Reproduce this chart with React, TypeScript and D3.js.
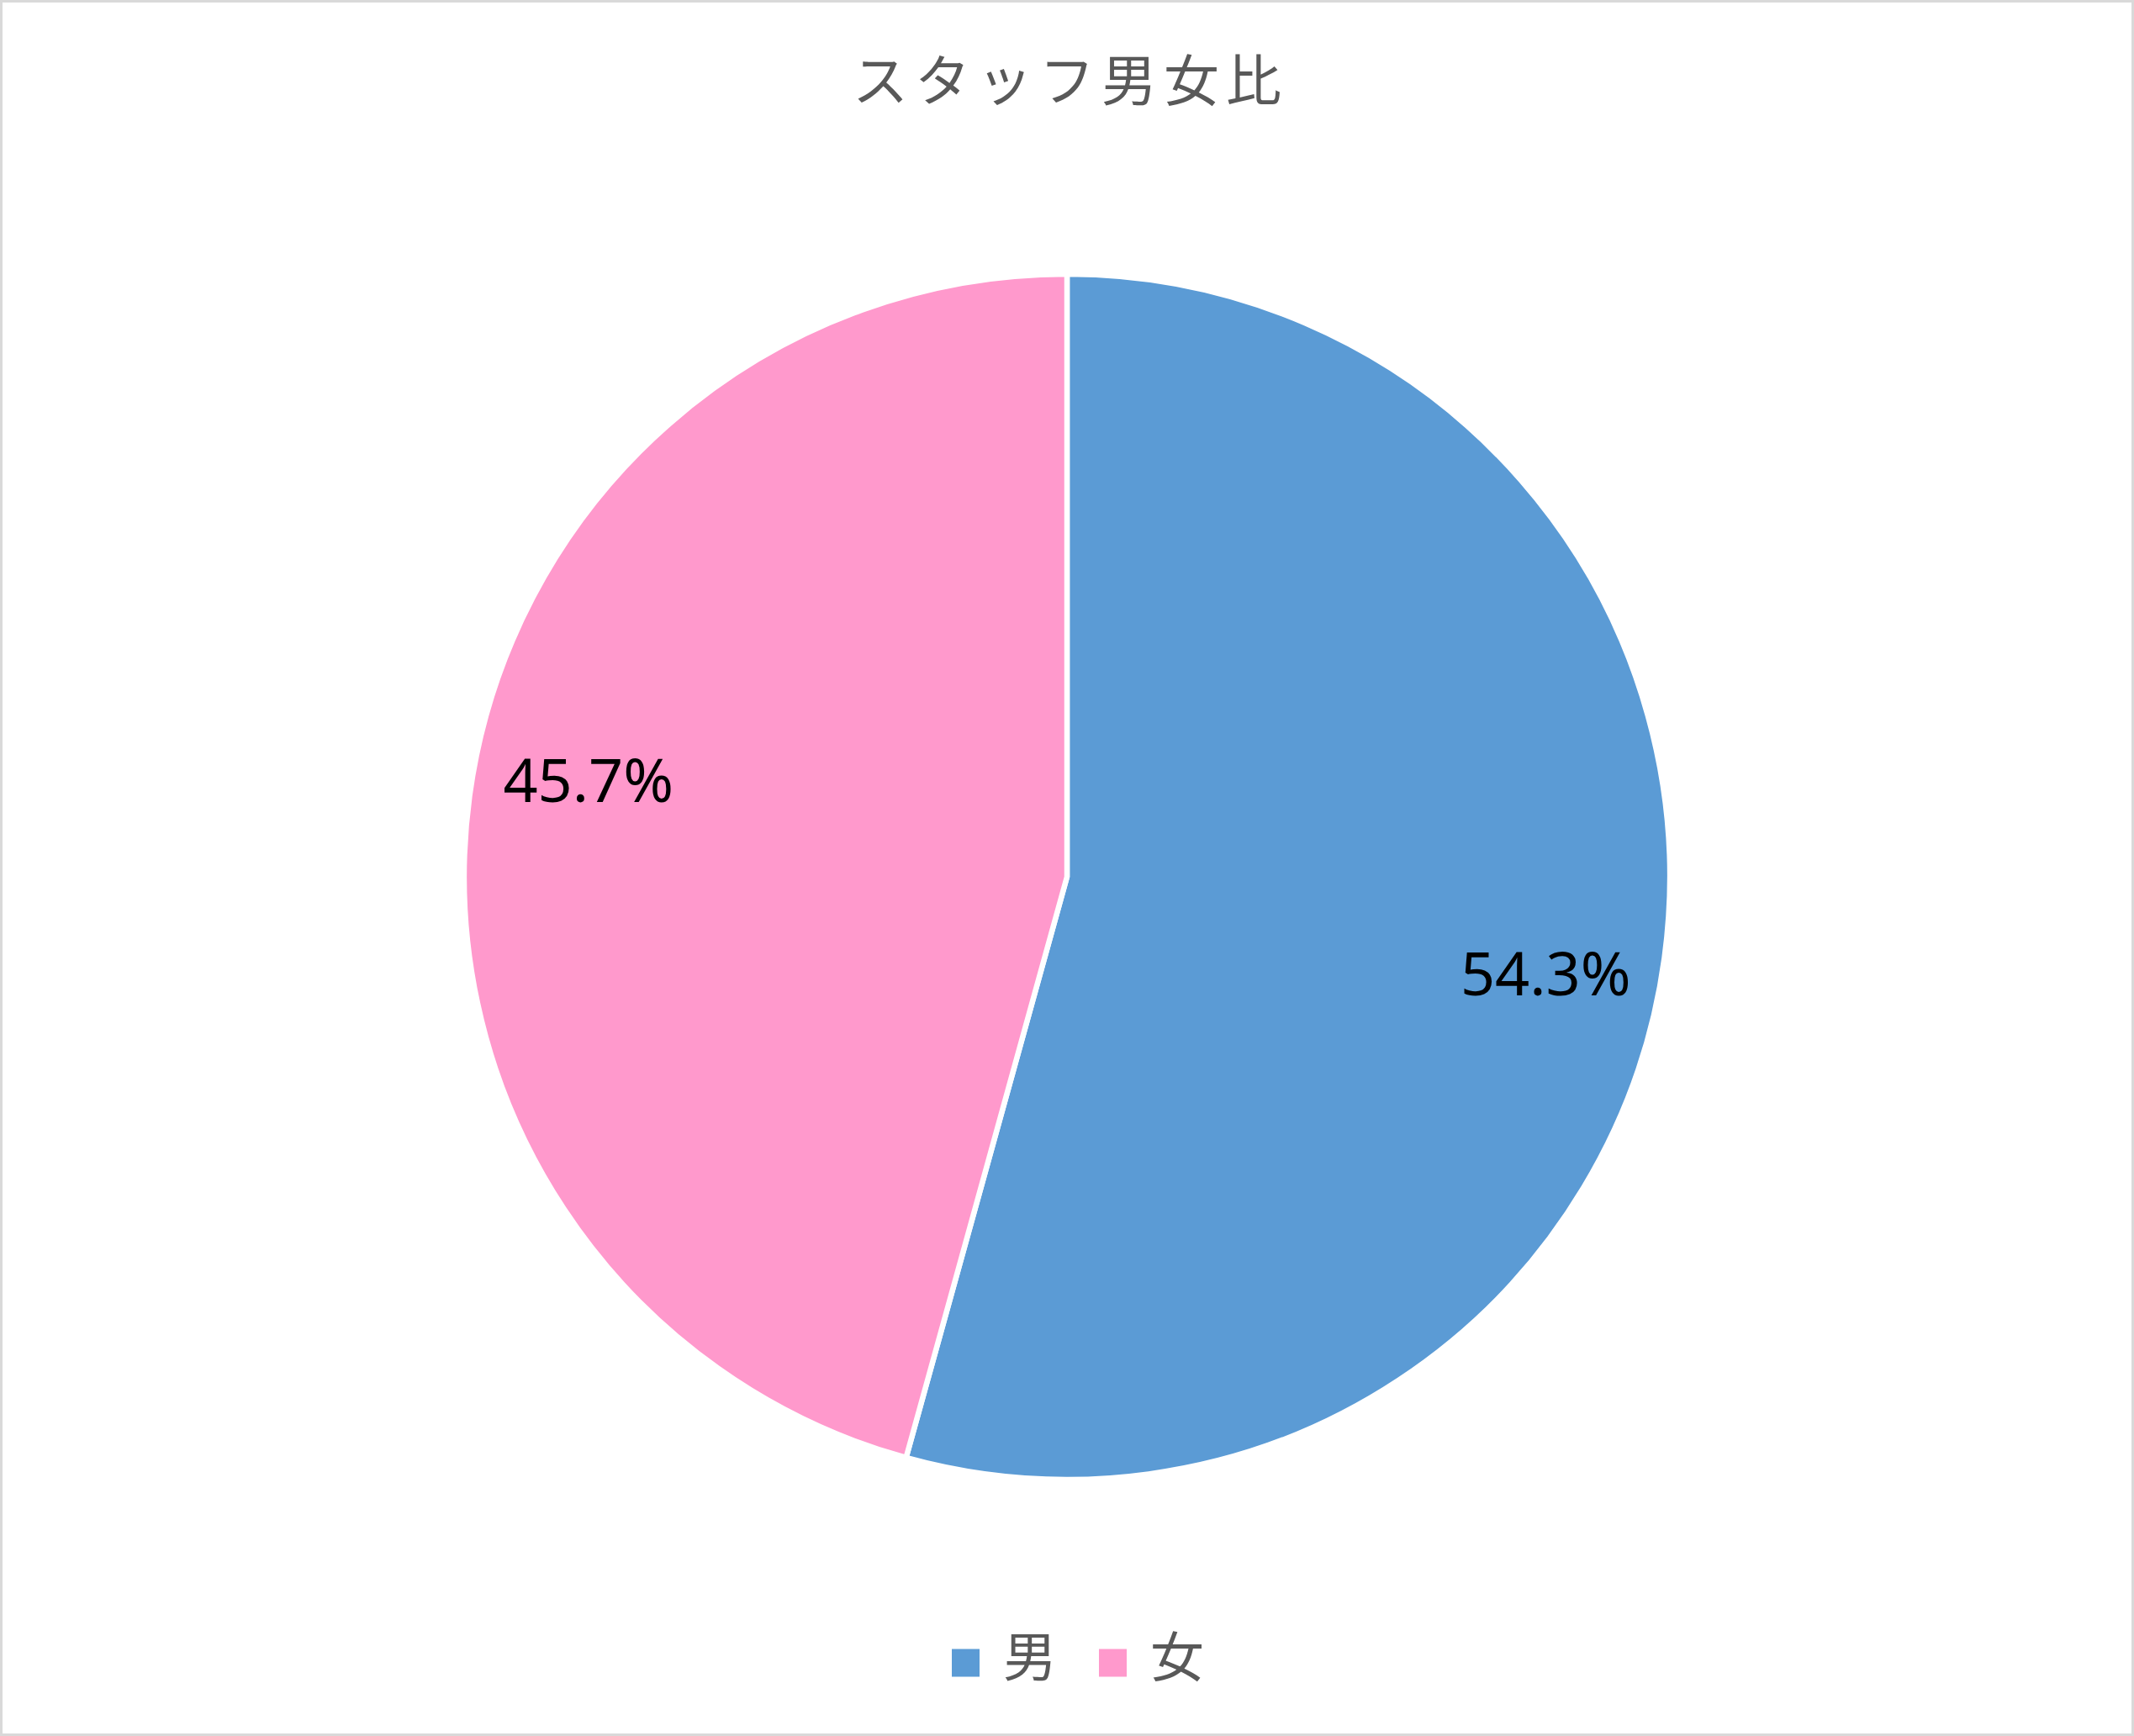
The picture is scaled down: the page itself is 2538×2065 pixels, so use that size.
import React from 'react';
import * as d3 from 'd3';

// chart data
const categories = ['男', '女'];
const values = [54.3, 45.7];
const colors = ['#5B9BD5', '#FF99CC'];
const title = 'スタッフ男女比';

const W = 2538;
const H = 2065;

const App: React.FC = () => {
  const cx = 1269;
  const cy = 1043;
  const radius = 717;

  const pie = d3.pie<number>().sort(null).value(d => d);
  const arcs = pie(values);

  const arc = d3.arc<d3.PieArcDatum<number>>()
    .innerRadius(0)
    .outerRadius(radius);

  // Excel-like label spot: ~81% of the radius, a few degrees past the mid-angle
  const labelR = radius * 0.81;
  const angleShift = (3.7 * Math.PI) / 180;
  const labelPos = (a: d3.PieArcDatum<number>): [number, number] => {
    const mid = (a.startAngle + a.endAngle) / 2 + angleShift;
    return [Math.sin(mid) * labelR, -Math.cos(mid) * labelR];
  };

  const total = d3.sum(values);
  const fmt = (v: number) => `${(v / total * 100).toFixed(1)}%`;

  const cjkFont = '"Noto Sans CJK JP", "Noto Sans", sans-serif';

  // legend layout
  const legendY = 1978;
  const sw = 33;
  const legendX = [1132, 1307];

  return (
    <svg
      width={W}
      height={H}
      style={{ position: 'absolute', left: 0, top: 0, display: 'block', background: '#fff' }}
    >
      <rect x={1.5} y={1.5} width={W - 3} height={H - 3} fill="#fff" stroke="#d9d9d9" strokeWidth={3} />

      <text
        x={cx + 4}
        y={120}
        textAnchor="middle"
        fontFamily={cjkFont}
        fontSize={66}
        letterSpacing={8}
        fill="#595959"
      >
        {title}
      </text>

      <g transform={`translate(${cx},${cy})`}>
        {arcs.map((a, i) => (
          <path
            key={categories[i]}
            d={arc(a) || ''}
            fill={colors[i]}
            stroke="#fff"
            strokeWidth={6.5}
            strokeLinejoin="round"
          />
        ))}
        {arcs.map((a, i) => {
          const [lx, ly] = labelPos(a);
          return (
            <text
              key={`l-${categories[i]}`}
              x={lx}
              y={ly}
              dy="0.36em"
              textAnchor="middle"
              fontFamily='"Noto Sans", "Open Sans", sans-serif'
              fontSize={72}
              fill="#000"
            >
              {fmt(values[i])}
            </text>
          );
        })}
      </g>

      {categories.map((c, i) => (
        <g key={`lg-${c}`}>
          <rect x={legendX[i]} y={legendY - sw / 2} width={sw} height={sw} fill={colors[i]} />
          <text
            x={legendX[i] + sw + 28}
            y={legendY + 16}
            fontFamily={cjkFont}
            fontSize={64}
            fill="#595959"
          >
            {c}
          </text>
        </g>
      ))}
    </svg>
  );
};

export default App;
